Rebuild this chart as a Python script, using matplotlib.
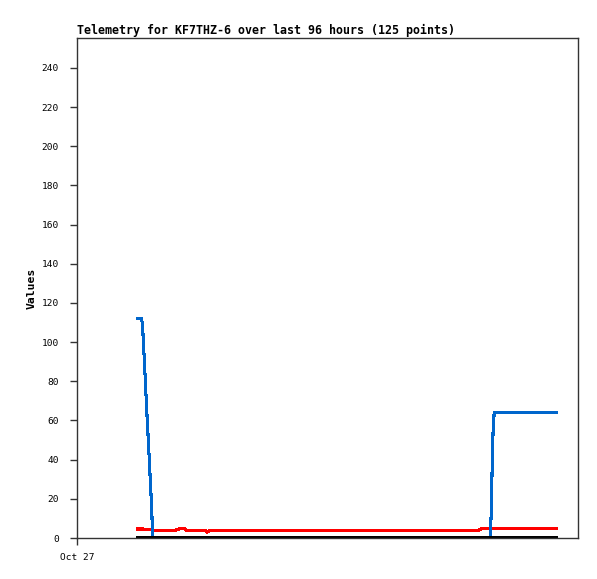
import matplotlib
matplotlib.use("Agg")
import matplotlib.pyplot as plt

# hours since Oct 27 00:00
hours = [11.69, 12.40, 12.59, 12.78, 12.97, 13.16, 13.35, 13.54, 13.74, 13.93,
         14.12, 14.31, 14.50, 18.78, 19.35, 19.93, 20.50, 20.89, 24.53, 24.91,
         25.48, 76.83, 77.22, 77.60, 79.17, 79.36, 79.55, 79.74, 79.94, 91.78]

blue_vals = [112, 112, 107, 97, 87, 76.5, 66, 56, 46, 35.6,
             25.4, 15.2, 0, 0, 0, 0, 0, 0, 0, 0,
             0, 0, 0, 0, 0, 12, 36, 56, 64, 64]

red_vals = [4.6, 4.6, 4.6, 4.6, 4.2, 4.2, 4.2, 4.2, 4.2, 4.2,
            4.2, 4.2, 3.9, 3.9, 4.4, 4.95, 4.95, 3.9, 3.9, 2.9,
            3.9, 3.9, 4.4, 4.95, 4.95, 4.95, 4.95, 4.95, 4.95, 4.95]

black_vals = [0] * len(hours)

y_ticks = list(range(0, 241, 20))
x_ticks = [0]
x_tick_labels = ["Oct 27"]

title = "Telemetry for KF7THZ-6 over last 96 hours (125 points)"

W, H = 597, 579
fig = plt.figure(figsize=(W / 100, H / 100), dpi=100)
ax = fig.add_axes([77 / W, 1 - 538 / H, 501 / W, 500 / H])

ax.plot(hours, red_vals, color="#ff0000", lw=1.5, antialiased=False)
ax.plot(hours, blue_vals, color="#0066cc", lw=1.5, antialiased=False)
ax.plot(hours, black_vals, color="#000000", lw=1.5, antialiased=False)

ax.set_xlim(0, 96)
ax.set_ylim(0, 255.3)
ax.set_yticks(y_ticks)
ax.set_xticks(x_ticks)
ax.set_xticklabels(x_tick_labels)

for s in ax.spines.values():
    s.set_color("#333333")
    s.set_linewidth(1)

ax.tick_params(axis="both", direction="out", length=5, width=1, color="#333333",
               labelsize=6.8, labelcolor="#000000", pad=8)
ax.tick_params(axis="x", pad=6)
for lbl in ax.get_xticklabels() + ax.get_yticklabels():
    lbl.set_family("DejaVu Sans Mono")

ax.set_ylabel("Values", fontsize=8.2, fontweight="bold", family="DejaVu Sans Mono")
ax.yaxis.set_label_coords(-0.08, 0.5)

fig.text(77 / W, 1 - 30 / H, title, fontsize=8.35, fontweight="bold",
         family="DejaVu Sans Mono", ha="left", va="center")

fig.savefig("out.png", dpi=100, facecolor="white")
